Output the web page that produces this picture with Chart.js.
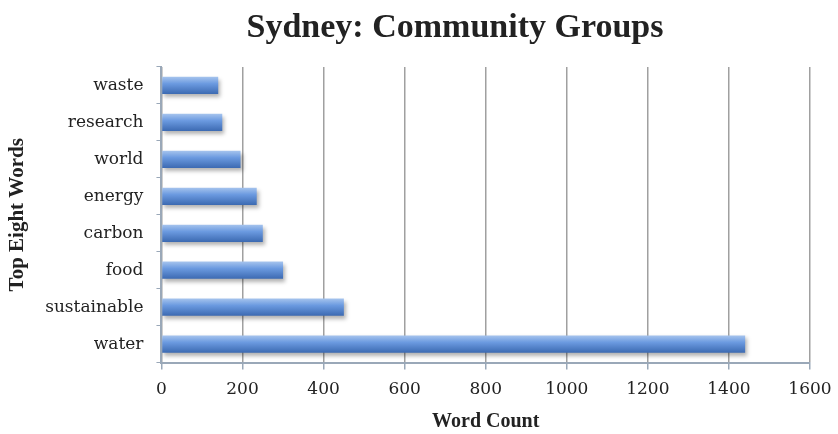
<!DOCTYPE html>
<html><head><meta charset="utf-8">
<script src="https://cdn.jsdelivr.net/npm/chart.js@4/dist/chart.umd.min.js"></script>
<style>html,body{margin:0;padding:0;background:#fff}#wrap{width:838px;height:434px}</style>
</head><body><div id="wrap"><canvas id="c" width="838" height="434"></canvas></div>
<script>
const categories = ["waste","research","world","energy","carbon","food","sustainable","water"];
const wordCounts = [140,150,195,235,250,300,450,1440];
const xTicks = [0,200,400,600,800,1000,1200,1400,1600];
const chartTitle = 'Sydney: Community Groups';

const shadowPlugin = {
  id:'shadow',
  beforeDatasetDraw(chart){ const c=chart.ctx; c.save(); c.shadowColor='rgba(0,0,0,0.3)'; c.shadowBlur=4; c.shadowOffsetX=2; c.shadowOffsetY=3; },
  afterDatasetDraw(chart){ chart.ctx.restore(); }
};
const titlePlugin = {
  id:'offsetTitle',
  afterDraw(chart){ const c=chart.ctx; c.save(); c.font='bold 34px "Liberation Serif"'; c.fillStyle='#222'; c.textAlign='center'; c.textBaseline='middle'; c.fillText(chartTitle, 455, 28); c.restore(); }
};

function barFill(ctx){
  const chart = ctx.chart; const y = chart.scales.y;
  if(!y || ctx.dataIndex===undefined) return '#5a8ad0';
  const cy = y.getPixelForValue(ctx.dataIndex);
  if(!isFinite(cy)) return '#5a8ad0';
  const h = 9;
  const g = chart.ctx.createLinearGradient(0, cy-h, 0, cy+h);
  g.addColorStop(0,'#a9c6ee');
  g.addColorStop(0.4,'#6b9ae0');
  g.addColorStop(1,'#3a68b0');
  return g;
}

new Chart(document.getElementById('c'), {
  type:'bar',
  data:{ labels:categories, datasets:[{ data:wordCounts, backgroundColor:barFill, borderWidth:0, categoryPercentage:0.9, barPercentage:0.52 }]},
  options:{
    indexAxis:'y', responsive:false, animation:false,
    layout:{padding:{left:1,right:8,top:67,bottom:0}},
    plugins:{ legend:{display:false}, tooltip:{enabled:false}, title:{display:false} },
    scales:{
      x:{ min:0,max:1600, afterBuildTicks(s){ s.ticks = xTicks.map(v=>({value:v})); },
        afterFit(s){ s.paddingRight = 28; },
        grid:{color:'#a0a0a0',lineWidth:1.5,tickLength:7,tickColor:'#9aa8b8'},
        border:{color:'#9aa8b8',width:2},
        ticks:{color:'#222',font:{family:'DejaVu Serif',size:17},padding:10,callback:(v)=>String(v)},
        title:{display:true,text:'Word Count',color:'#222',font:{family:'Liberation Serif',size:20,weight:'bold'},padding:{top:0,bottom:0}}
      },
      y:{ grid:{drawOnChartArea:false,tickLength:5,tickColor:'#9aa8b8'},
        border:{color:'#9aa8b8',width:2},
        ticks:{color:'#222',font:{family:'DejaVu Serif',size:17},padding:13},
        title:{display:true,text:'Top Eight Words',color:'#222',font:{family:'Liberation Serif',size:21,weight:'bold'},padding:{bottom:2}}
      }
    }
  },
  plugins:[shadowPlugin,titlePlugin]
});
</script></body></html>
